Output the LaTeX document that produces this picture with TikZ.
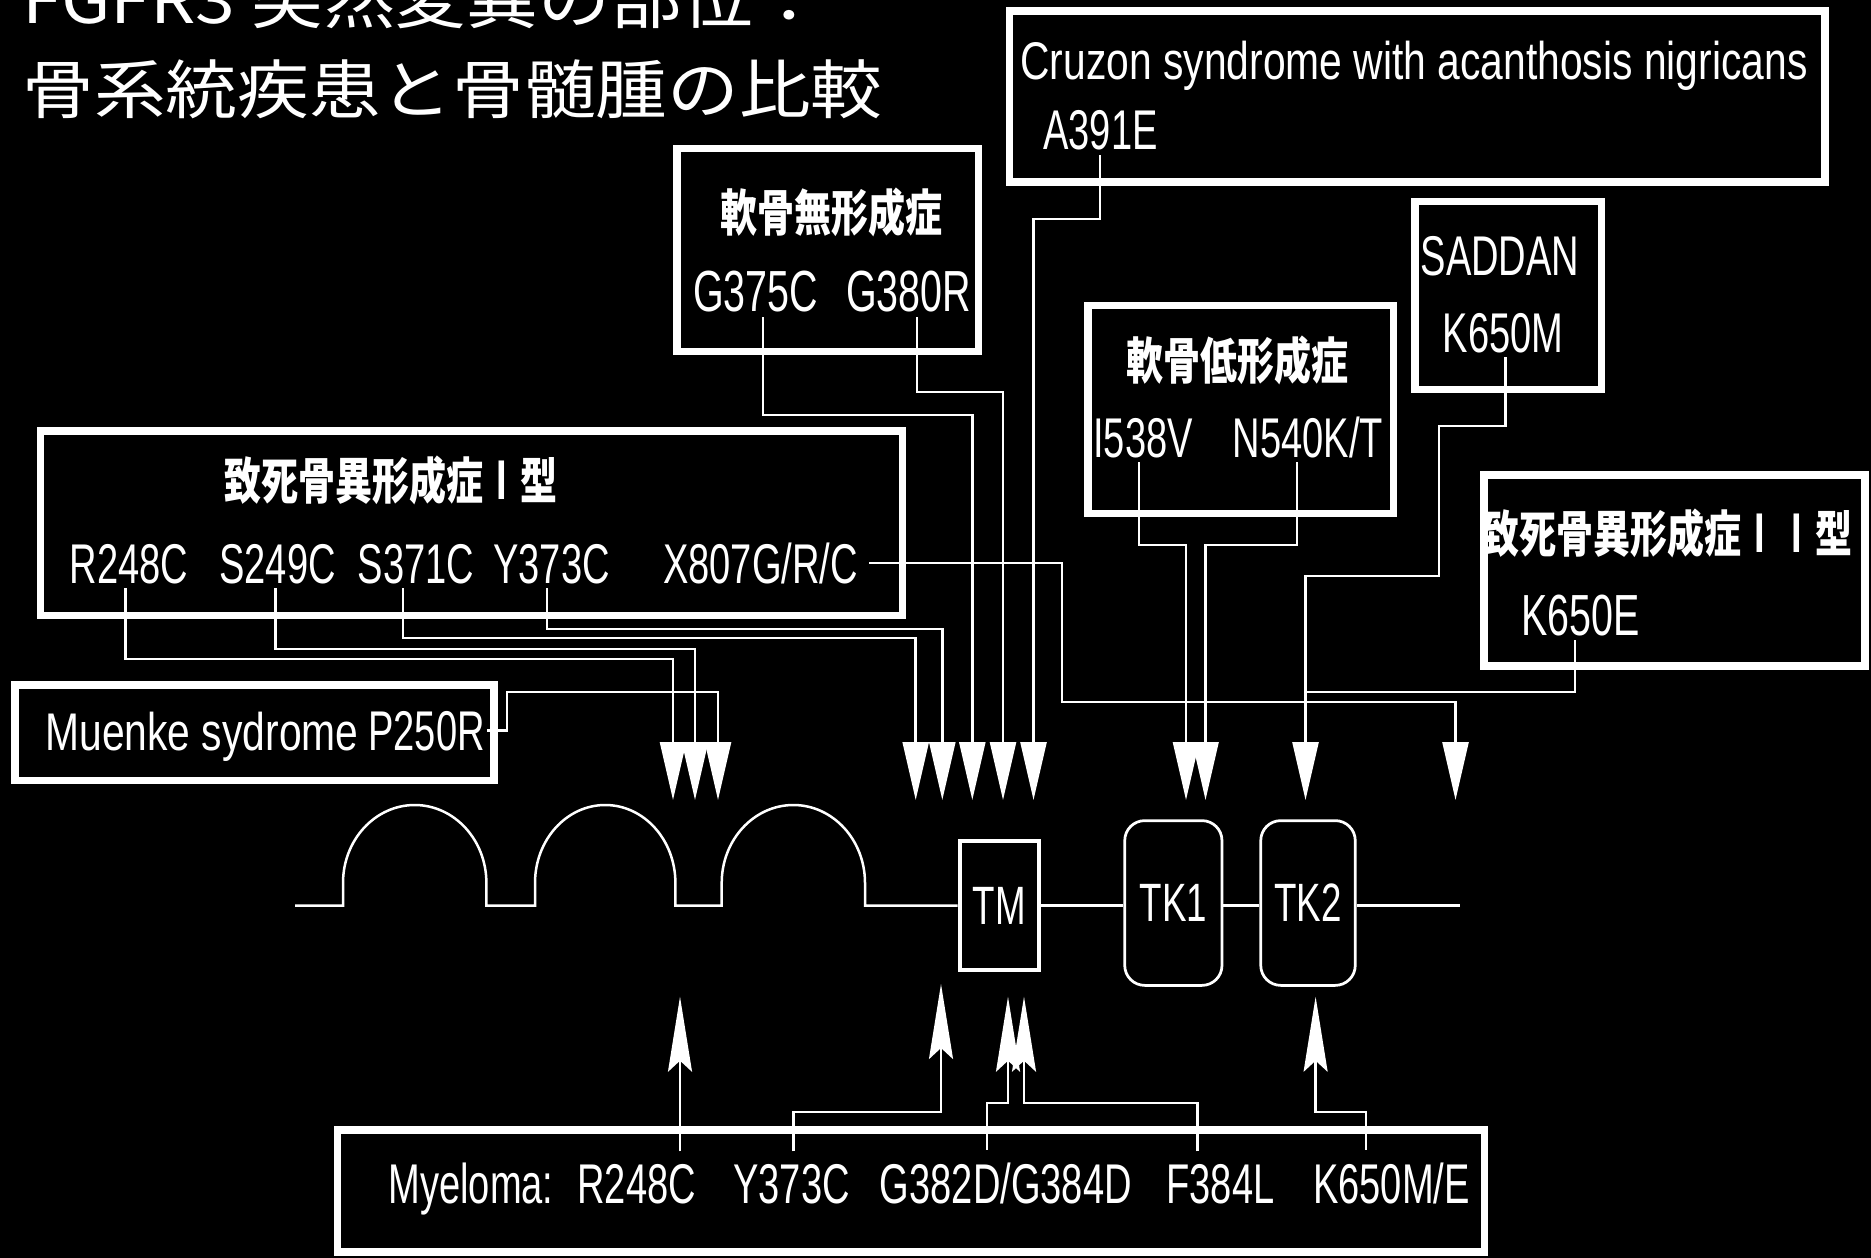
\documentclass[tikz,border=0pt]{standalone}
\usepackage{fontspec}
\usetikzlibrary{arrows.meta}
\setmainfont{Liberation Sans}
\newfontfamily\labfont[FakeStretch=0.68]{Liberation Sans}
\newfontfamily\labwfont[FakeStretch=0.77]{Liberation Sans}
\newfontfamily\jpfont[FakeStretch=0.74]{Noto Sans CJK JP}
\newfontfamily\jptitlefont[FakeStretch=1.12]{Noto Sans CJK JP}
\newcommand\fsz[1]{\fontsize{#1}{#1}\selectfont}
\newcommand\romI{\makebox[14.8pt]{\labfont\fsz{22.4pt}I}}
\begin{document}
\begin{tikzpicture}[x=0.4pt,y=-0.4pt,
  bigbox/.style={draw=white, line width=3pt, inner sep=0pt},
  lab/.style={text=white, inner xsep=0.8pt, inner ysep=1.6pt, anchor=base},
  ttl/.style={text=white, inner sep=0pt, anchor=base west, font=\jptitlefont\fsz{25.6pt}},
  conn/.style={draw=white, line width=1pt},
  dom/.style={draw=white, line width=1pt},
  dtip/.style={-{Triangle[length=23.2pt,width=10.4pt]}},
  utip/.style={-{Stealth[length=30pt,width=9.6pt,inset=4.4pt]}},
  tmbox/.style={draw=white, line width=1.6pt, text=white, inner sep=0pt,
    minimum width=31.8pt, minimum height=51.6pt, font=\labfont\fsz{21.6pt}},
  tkbox/.style={draw=white, line width=1.1pt, rounded corners=8pt, text=white,
    inner sep=0pt, minimum height=65.9pt, font=\labfont\fsz{21.6pt}},
]
\useasboundingbox (0,0) rectangle (1871,1258);
\fill[black] (0,0) rectangle (1871,1258);
\begin{scope}
\clip (0,0) rectangle (1871,1258);

% titles
\node[ttl] (title1) at (22,23.5) {FGFR3 突然変異の部位：};
\node[ttl] (title2) at (22,113.5) {骨系統疾患と骨髄腫の比較};

% boxes
\node[bigbox, minimum width=326.2pt, minimum height=68.5pt] (cruzonbox) at (1417.25,96.4) {};
\node[bigbox, minimum width=120.6pt, minimum height=81pt] (achonbox) at (827.5,250) {};
\node[bigbox, minimum width=122.2pt, minimum height=83pt] (hypobox) at (1240.5,409.5) {};
\node[bigbox, minimum width=74.6pt, minimum height=75pt] (saddanbox) at (1508,295.5) {};
\node[bigbox, minimum width=344.6pt, minimum height=73.8pt] (tdonebox) at (471.5,523) {};
\node[bigbox, minimum width=191.4pt, minimum height=38.2pt] (muenkebox) at (254.5,732.5) {};
\node[bigbox, minimum width=152.5pt, minimum height=76.4pt] (tdtwobox) at (1674.4,570.25) {};
\node[bigbox, minimum width=458.6pt, minimum height=48.9pt] (myelbox) at (911,1190.9) {};

% labels
\node[lab, font=\labwfont\fsz{21.2pt}] (cruzon) at (1414,80) {Cruzon syndrome with acanthosis nigricans};
\node[lab, font=\labfont\fsz{22.4pt}] (a391e) at (1100.5,150) {A391E};
\node[lab, font=\jpfont\bfseries\fsz{20pt}] (achon) at (831,232) {軟骨無形成症};
\node[lab, font=\labfont\fsz{23.2pt}] (g375c) at (755.5,312) {G375C};
\node[lab, font=\labfont\fsz{23.2pt}] (g380r) at (908.5,312) {G380R};
\node[lab, font=\labfont\fsz{22.4pt}] (saddan) at (1500,275) {SADDAN};
\node[lab, font=\labfont\fsz{22.4pt}] (k650m) at (1503,352) {K650M};
\node[lab, font=\jpfont\bfseries\fsz{20pt}] (hypo) at (1237.5,379) {軟骨低形成症};
\node[lab, font=\labfont\fsz{22.4pt}] (i538v) at (1143,457) {I538V};
\node[lab, font=\labfont\fsz{22.4pt}] (n540) at (1308,457) {N540K/T};
\node[lab, font=\jpfont\bfseries\fsz{20pt}] (tdone) at (390.5,499) {致死骨異形成症\romI 型};
\node[lab, font=\labfont\fsz{22.4pt}] (r248c) at (129,583) {R248C};
\node[lab, font=\labfont\fsz{22.4pt}] (s249c) at (277.5,583) {S249C};
\node[lab, font=\labfont\fsz{22.4pt}] (s371c) at (416,583) {S371C};
\node[lab, font=\labfont\fsz{22.4pt}] (y373c) at (551.5,583) {Y373C};
\node[lab, font=\labfont\fsz{22.4pt}] (x807) at (760.5,583) {X807G/R/C};
\node[lab, font=\jpfont\bfseries\fsz{20pt}] (tdtwo) at (1667.5,552) {致死骨異形成症\romI\romI 型};
\node[lab, font=\labfont\fsz{23.2pt}] (k650e) at (1580.5,635) {K650E};
\node[lab, anchor=base west, font=\labwfont\fsz{21.2pt}] (muenke) at (43,750) {Muenke sydrome};
\node[lab, font=\labfont\fsz{22.4pt}] (p250r) at (426.5,750) {P250R};
\node[lab, anchor=base west, inner ysep=4.8pt, font=\labfont\fsz{22.4pt}] (myel) at (386,1203) {Myeloma:};
\node[lab, inner ysep=4.8pt, font=\labfont\fsz{22.4pt}] (r248cm) at (636.75,1203) {R248C};
\node[lab, inner ysep=4.8pt, font=\labfont\fsz{22.4pt}] (y373cm) at (791.5,1203) {Y373C};
\node[lab, inner ysep=4.8pt, font=\labfont\fsz{22.4pt}] (g382) at (1005.8,1203) {G382D/G384D};
\node[lab, inner ysep=4.8pt, font=\labfont\fsz{22.4pt}] (f384l) at (1220.5,1203) {F384L};
\node[lab, inner ysep=4.8pt, font=\labfont\fsz{22.4pt}] (k650me) at (1391.5,1203) {K650M/E};

% domains
\node[tmbox] (tm) at (999.25,905.5) {TM};
\node[tkbox, minimum width=38.9pt] (tk1) at (1173.35,903) {TK1};
\node[tkbox, minimum width=37.8pt] (tk2) at (1308,903) {TK2};
\coordinate (dstart) at (295,905.5);
\coordinate (dend) at (1460,905.5);
\draw[dom] (dstart) -- (343,905.5) -- (343,883)
  .. controls (343,839.9) and (375.1,805) .. (414.7,805)
  .. controls (454.3,805) and (486.4,839.9) .. (486.4,883) -- (486.4,905.5)
  -- (535,905.5) -- (535,883)
  .. controls (535,839.9) and (566.4,805) .. (605.2,805)
  .. controls (644,805) and (675.4,839.9) .. (675.4,883) -- (675.4,905.5)
  -- (721.7,905.5) -- (721.7,883)
  .. controls (721.7,839.9) and (753.8,805) .. (793.4,805)
  .. controls (832.9,805) and (865,839.9) .. (865,883) -- (865,905.5) -- (tm.west);
\draw[dom] (tm.east) -- (tk1.west |- tm.east);
\draw[dom] (tk1.east |- tm.east) -- (tk2.west |- tm.east);
\draw[dom] (tk2.east |- tm.east) -- (dend);

% arrow targets
\coordinate (d1) at (673,800);
\coordinate (d2) at (695,800);
\coordinate (d3) at (718,800);
\coordinate (d4) at (915.7,800);
\coordinate (d5) at (942.3,800);
\coordinate (d6) at (972.3,800);
\coordinate (d7) at (1003,800);
\coordinate (d8) at (1033.5,800);
\coordinate (d9) at (1186,800);
\coordinate (d10) at (1205.5,800);
\coordinate (d11) at (1305.5,800);
\coordinate (d12) at (1455.5,800);
\coordinate (j1) at (1305.5,692);
\coordinate (u1) at (680,996.7);
\coordinate (u2) at (941,984);
\coordinate (u3) at (1008,996.7);
\coordinate (u4) at (1024,996.7);
\coordinate (u5) at (1315.6,996.7);

% connectors (disorders)
\draw[conn,dtip] (r248c.south -| 125.6,0) |- (673,659) -- (d1);
\draw[conn,dtip] (s249c.south -| 275.5,0) |- (695,649) -- (d2);
\draw[conn,dtip] (p250r.east) -| (507,692) -| (d3);
\draw[conn,dtip] (s371c.south -| 403,0) |- (915.7,638) -- (d4);
\draw[conn,dtip] (y373c.south -| 547,0) |- (942.3,629) -- (d5);
\draw[conn,dtip] (g375c.south -| 763,0) |- (972.3,415) -- (d6);
\draw[conn,dtip] (g380r.south -| 917,0) |- (1003,392) -- (d7);
\draw[conn,dtip] (a391e.south -| 1100,0) |- (1033.5,219) -- (d8);
\draw[conn,dtip] (i538v.south -| 1139,0) |- (1186,545) -- (d9);
\draw[conn,dtip] (n540.south -| 1297,0) |- (1205.5,545) -- (d10);
\draw[conn,dtip] (k650m.south -| 1505.5,0) |- (1439,426) |- (1305.5,576) -- (d11);
\draw[conn] (k650e.south -| 1575,0) |- (j1);
\draw[conn,dtip] (x807.east) ++(9,0) -| (1062,702) -| (d12);

% connectors (myeloma)
\draw[conn,utip] (r248cm.north -| 680,0) -- (u1);
\draw[conn,utip] (y373cm.north -| 793.6,0) |- (941,1112) -- (u2);
\draw[conn,utip] (g382.north -| 987,0) |- (1008,1103) -- (u3);
\draw[conn,utip] (f384l.north -| 1197.7,0) |- (1024,1103) -- (u4);
\draw[conn,utip] (k650me.north -| 1366,0) |- (1315.6,1112) -- (u5);
\end{scope}
\end{tikzpicture}
\end{document}
